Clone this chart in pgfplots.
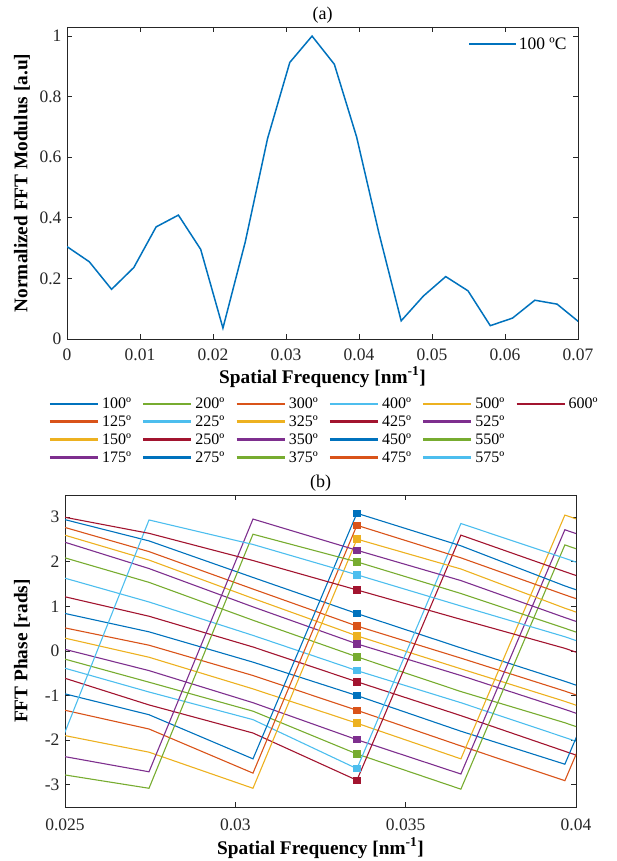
\documentclass[border=0pt]{standalone}
\usepackage{fontspec}
\setmainfont{Liberation Serif}
\usepackage{pgfplots}
\pgfplotsset{compat=1.18}
\usepackage{pgfplotstable}

\definecolor{c1}{RGB}{0,114,189}
\definecolor{c2}{RGB}{217,83,25}
\definecolor{c3}{RGB}{237,177,32}
\definecolor{c4}{RGB}{126,47,142}
\definecolor{c5}{RGB}{119,172,48}
\definecolor{c6}{RGB}{77,190,238}
\definecolor{c7}{RGB}{162,20,47}
\definecolor{axgray}{RGB}{38,38,38}

\pgfplotstableread{
x y
0        0.305
0.003052 0.255
0.006104 0.164
0.009155 0.236
0.012207 0.370
0.015259 0.409
0.018311 0.296
0.021362 0.036
0.024414 0.320
0.027466 0.661
0.030518 0.913
0.033569 1.000
0.036621 0.907
0.039673 0.667
0.042725 0.350
0.045776 0.060
0.048828 0.142
0.051880 0.206
0.054932 0.159
0.057983 0.044
0.061035 0.069
0.064087 0.128
0.067139 0.115
0.070190 0.055
}\modtable

\pgfplotstableread{
x t100 t125 t150 t175 t200 t225 t250 t275 t300 t325 t350 t375 t400 t425 t450 t475 t500 t525 t550 t575 t600
0.024414 3.06 2.90 2.73 2.58 2.22 1.76 1.32 0.94 0.61 0.39 0.15 -0.06 -0.26 -0.47 -0.85 -1.23 -1.81 -2.29 -2.71 -2.95 3.085
0.027466 2.47 2.23 2.04 1.85 1.54 1.10 0.78 0.43 0.13 -0.14 -0.44 -0.70 -0.92 -1.21 -1.43 -1.75 -2.27 -2.71 -3.08 2.94 2.64
0.030518 1.65 1.39 1.18 0.99 0.69 0.35 0.09 -0.25 -0.55 -0.85 -1.16 -1.35 -1.54 -1.84 -2.42 -2.74 -3.08 2.96 2.62 2.39 2.03
0.033569 0.84 0.56 0.34 0.16 -0.13 -0.44 -0.69 -1.00 -1.33 -1.62 -1.99 -2.31 -2.64 -2.90 3.09 2.82 2.51 2.26 2.00 1.71 1.37
0.036621 0.07 -0.16 -0.40 -0.55 -0.91 -1.16 -1.45 -1.80 -2.13 -2.42 -2.76 -3.10 2.86 2.60 2.36 2.09 1.84 1.58 1.29 1.01 0.71
0.039673 -0.68 -0.90 -1.13 -1.31 -1.61 -1.94 -2.25 -2.54 -2.91 3.05 2.72 2.38 2.08 1.78 1.46 1.26 0.96 0.75 0.51 0.32 0.06
0.042725 -1.48 -1.70 -1.93 -2.11 -2.41 -2.74 -3.05 2.94 2.57 2.25 1.92 1.58 1.28 0.98 0.66 0.46 0.16 -0.05 -0.29 -0.48 -0.74
}\phasetable

\pgfplotsset{
  matlab/.style={
    scale only axis, width=511pt, height=312pt, anchor=south west,
    tick align=inside, major tick length=5pt,
    axis line style={draw=axgray, line width=0.8pt},
    every tick/.style={draw=axgray, line width=0.8pt},
    tick label style={font=\fontsize{17.5}{17.5}\selectfont, text=axgray},
    yticklabel style={xshift=-2pt},
    label style={font=\bfseries\fontsize{19.3}{19.3}\selectfont},
    title style={font=\fontsize{18}{18}\selectfont, at={(axis description cs:0.5,1)}, anchor=center, yshift=6pt},
    scaled ticks=false,
  },
  ph/.style={#1, line width=1.1pt, mark=square*, mark indices={3}, mark size=3.2pt, mark options={solid, fill=#1},
    legend image code/.code={\draw[#1, line width=2.3pt] (0pt,0pt) -- (48pt,0pt);}},
}

\begin{document}
\begin{tikzpicture}
\path[use as bounding box] (0,0) rectangle (617pt,861pt);

\begin{axis}[matlab, at={(67pt,522pt)},
  xmin=0, xmax=0.07, ymin=0, ymax=1.03,
  xtick={0,0.01,0.02,0.03,0.04,0.05,0.06,0.07},
  xticklabels={0,0.01,0.02,0.03,0.04,0.05,0.06,0.07},
  ytick={0,0.2,0.4,0.6,0.8,1},
  yticklabels={0,0.2,0.4,0.6,0.8,1},
  xticklabel style={yshift=-6pt},
  xlabel={Spatial Frequency [nm\textsuperscript{-1}]},
  ylabel={Normalized FFT Modulus [a.u]},
  xlabel style={at={(axis description cs:0.5,-0.122)}, anchor=center},
  ylabel style={at={(axis description cs:-0.088,0.5)}, anchor=center},
  title={(a)},
  legend style={draw=none, fill=none, at={(axis description cs:0.785,0.945)}, anchor=west,
    font=\fontsize{17.5}{17.5}\selectfont, inner sep=0pt},
  legend image code/.code={\draw[#1] (0pt,0pt) -- (47pt,0pt);},
]
\addplot[c1, line width=1.5pt] table[x=x, y=y]{\modtable};
\addlegendentry{100 ºC}
\end{axis}

\begin{axis}[matlab, at={(65pt,54pt)},
  xmin=0.025, xmax=0.04, ymin=-3.5, ymax=3.5,
  xtick={0.025,0.03,0.035,0.04},
  xticklabels={0.025,0.03,0.035,0.04},
  ytick={-3,-2,-1,0,1,2,3},
  yticklabels={-3,-2,-1,0,1,2,3},
  xticklabel style={yshift=-8pt},
  xlabel={Spatial Frequency [nm\textsuperscript{-1}]},
  ylabel={FFT Phase [rads]},
  xlabel style={at={(axis description cs:0.5,-0.132)}, anchor=center},
  ylabel style={at={(axis description cs:-0.084,0.5)}, anchor=center},
  title={(b)},
  legend columns=4,
  transpose legend,
  legend style={draw=none, fill=none, at={(axis description cs:-0.032,1.316)}, anchor=north west,
    font=\fontsize{16}{16}\selectfont, inner sep=0pt, row sep=3.8pt, column sep=0pt,
    nodes={text width=37pt, inner xsep=3pt, inner ysep=1pt, anchor=west, align=left}},
]
\addplot[ph=c1] table[x=x, y=t100]{\phasetable}; \addlegendentry{100º}
\addplot[ph=c2] table[x=x, y=t125]{\phasetable}; \addlegendentry{125º}
\addplot[ph=c3] table[x=x, y=t150]{\phasetable}; \addlegendentry{150º}
\addplot[ph=c4] table[x=x, y=t175]{\phasetable}; \addlegendentry{175º}
\addplot[ph=c5] table[x=x, y=t200]{\phasetable}; \addlegendentry{200º}
\addplot[ph=c6] table[x=x, y=t225]{\phasetable}; \addlegendentry{225º}
\addplot[ph=c7] table[x=x, y=t250]{\phasetable}; \addlegendentry{250º}
\addplot[ph=c1] table[x=x, y=t275]{\phasetable}; \addlegendentry{275º}
\addplot[ph=c2] table[x=x, y=t300]{\phasetable}; \addlegendentry{300º}
\addplot[ph=c3] table[x=x, y=t325]{\phasetable}; \addlegendentry{325º}
\addplot[ph=c4] table[x=x, y=t350]{\phasetable}; \addlegendentry{350º}
\addplot[ph=c5] table[x=x, y=t375]{\phasetable}; \addlegendentry{375º}
\addplot[ph=c6] table[x=x, y=t400]{\phasetable}; \addlegendentry{400º}
\addplot[ph=c7] table[x=x, y=t425]{\phasetable}; \addlegendentry{425º}
\addplot[ph=c1] table[x=x, y=t450]{\phasetable}; \addlegendentry{450º}
\addplot[ph=c2] table[x=x, y=t475]{\phasetable}; \addlegendentry{475º}
\addplot[ph=c3] table[x=x, y=t500]{\phasetable}; \addlegendentry{500º}
\addplot[ph=c4] table[x=x, y=t525]{\phasetable}; \addlegendentry{525º}
\addplot[ph=c5] table[x=x, y=t550]{\phasetable}; \addlegendentry{550º}
\addplot[ph=c6] table[x=x, y=t575]{\phasetable}; \addlegendentry{575º}
\addplot[ph=c7] table[x=x, y=t600]{\phasetable}; \addlegendentry{600º}
\addlegendimage{empty legend}\addlegendentry{}
\addlegendimage{empty legend}\addlegendentry{}
\addlegendimage{empty legend}\addlegendentry{}
\end{axis}
\end{tikzpicture}
\end{document}
